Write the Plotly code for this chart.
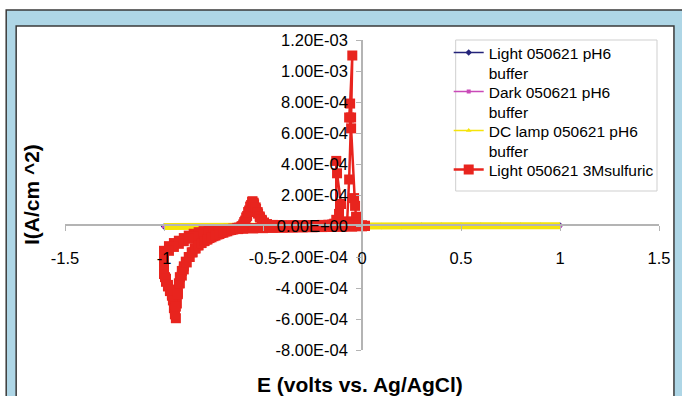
import plotly.graph_objects as go

# ---------------- data ----------------
x_tick_vals = [-1.5, -1.0, -0.5, 0.0, 0.5, 1.0, 1.5]
x_tick_text = ["-1.5", "-1", "-0.5", "0", "0.5", "1", "1.5"]
y_tick_vals = [-8e-4, -6e-4, -4e-4, -2e-4, 0.0, 2e-4, 4e-4, 6e-4, 8e-4, 1e-3, 1.2e-3]
y_tick_text = ["-8.00E-04", "-6.00E-04", "-4.00E-04", "-2.00E-04", "0.00E+00",
               "2.00E-04", "4.00E-04", "6.00E-04", "8.00E-04", "1.00E-03", "1.20E-03"]

buffer_E = [-1.0, -0.9, -0.8, -0.7, -0.6, -0.5, -0.4, -0.3, -0.2, -0.1, 0.0,
            0.1, 0.2, 0.3, 0.4, 0.5, 0.6, 0.7, 0.8, 0.9, 1.0]
light_buffer_I = [-3e-6, -2e-6, -1e-6, -1e-6, 0.0, 0.0, 0.0, 0.0, 0.0, 0.0, 0.0,
                  0.0, 0.0, 1e-6, 1e-6, 1e-6, 1e-6, 1e-6, 2e-6, 2e-6, 3e-6]
dark_buffer_I = [-2e-6, -1e-6, -1e-6, 0.0, 0.0, 0.0, 0.0, 0.0, 0.0, 0.0, 0.0,
                 0.0, 0.0, 0.0, 0.0, 1e-6, 1e-6, 1e-6, 1e-6, 1e-6, 2e-6]
dc_buffer_I = [-3e-6, -2e-6, -1e-6, -1e-6, 0.0, 0.0, 0.0, 0.0, 0.0, 0.0, 0.0,
               0.0, 0.0, 0.0, 1e-6, 1e-6, 1e-6, 1e-6, 2e-6, 2e-6, 2e-6]

# Light 050621 3M sulfuric, current in units of 1e-4 A/cm^2
cyc1_down_E = [0.015, 0.0, -0.05, -0.1, -0.15, -0.2, -0.25, -0.3, -0.35, -0.4, -0.45,
               -0.5, -0.55, -0.6, -0.625, -0.65, -0.675, -0.7, -0.725, -0.75, -0.775,
               -0.8, -0.825, -0.85, -0.875, -0.9, -0.925, -0.95, -0.975, -1.0, -1.0]
cyc1_down_I = [0.0, -0.02, -0.03, -0.04, -0.05, -0.06, -0.07, -0.08, -0.09, -0.1, -0.11,
               -0.12, -0.13, -0.14, -0.15, -0.17, -0.19, -0.2, -0.22, -0.25, -0.28,
               -0.33, -0.4, -0.5, -0.62, -0.78, -0.95, -1.1, -1.3, -1.6, -2.2]
cyc1_up_E = [-1.0, -0.995, -0.99, -0.98, -0.97, -0.96, -0.95, -0.945, -0.94, -0.935,
             -0.93, -0.925, -0.92, -0.91, -0.9, -0.89, -0.875, -0.86, -0.845, -0.83,
             -0.815, -0.8, -0.785, -0.77, -0.75, -0.73, -0.71, -0.69, -0.67, -0.65,
             -0.63, -0.61, -0.6, -0.59, -0.58, -0.57, -0.56, -0.553, -0.545, -0.535,
             -0.525, -0.515, -0.505, -0.495, -0.48, -0.46, -0.43, -0.4, -0.35, -0.3,
             -0.25, -0.2, -0.16, -0.13, -0.1, -0.08, -0.075, -0.065, -0.055, -0.049,
             -0.06, -0.065, -0.055, -0.04, -0.035, -0.03, -0.02, 0.0, 0.015]
cyc1_up_I = [-2.8, -3.3, -3.6, -3.9, -4.2, -4.5, -4.8, -5.4, -5.95, -5.0,
             -4.3, -3.7, -3.3, -2.9, -2.6, -2.3, -2.0, -1.7, -1.45, -1.25,
             -1.1, -0.98, -0.88, -0.78, -0.66, -0.55, -0.45, -0.36, -0.28, -0.2,
             -0.12, -0.04, 0.1, 0.35, 0.65, 1.0, 1.35, 1.6, 1.4, 1.1,
             0.8, 0.55, 0.35, 0.2, 0.1, 0.06, 0.05, 0.04, 0.04, 0.04,
             0.05, 0.05, 0.06, 0.08, 0.1, 0.15, 0.3, 3.0, 7.0, 11.0,
             7.9, 7.0, 6.3, 1.8, 1.3, 0.6, 0.2, 0.05, 0.0]
cyc2_down_E = [0.015, 0.0, -0.05, -0.1, -0.15, -0.2, -0.25, -0.3, -0.35, -0.4, -0.45,
               -0.5, -0.55, -0.6, -0.625, -0.65, -0.675, -0.7, -0.725, -0.75, -0.775,
               -0.8, -0.825, -0.85, -0.875, -0.9, -0.925, -0.95, -0.975, -1.0, -1.0]
cyc2_down_I = [0.02, 0.0, -0.03, -0.05, -0.06, -0.07, -0.08, -0.09, -0.1, -0.11, -0.12,
               -0.14, -0.16, -0.18, -0.2, -0.22, -0.25, -0.28, -0.31, -0.35, -0.4,
               -0.47, -0.56, -0.68, -0.82, -0.98, -1.15, -1.35, -1.6, -1.9, -2.5]
cyc2_up_E = [-1.0, -0.99, -0.98, -0.97, -0.96, -0.955, -0.95, -0.945, -0.94, -0.93,
             -0.92, -0.91, -0.9, -0.885, -0.87, -0.855, -0.84, -0.825, -0.81, -0.795,
             -0.78, -0.76, -0.74, -0.72, -0.7, -0.68, -0.66, -0.64, -0.62, -0.605,
             -0.595, -0.585, -0.575, -0.565, -0.555, -0.547, -0.537, -0.527, -0.517, -0.507,
             -0.495, -0.48, -0.45, -0.4, -0.35, -0.3, -0.25, -0.2, -0.17, -0.15,
             -0.14, -0.13, -0.13, -0.126, -0.106, -0.116, -0.1, -0.08, -0.05, -0.02,
             0.0, 0.015]
cyc2_up_I = [-3.1, -3.4, -3.8, -4.1, -4.4, -4.8, -5.3, -5.7, -5.2, -4.4,
             -3.7, -3.2, -2.8, -2.35, -2.0, -1.7, -1.45, -1.25, -1.1, -0.97,
             -0.86, -0.73, -0.62, -0.52, -0.43, -0.34, -0.26, -0.18, -0.1, 0.0,
             0.25, 0.55, 0.9, 1.25, 1.55, 1.5, 1.2, 0.9, 0.62, 0.4,
             0.22, 0.12, 0.07, 0.05, 0.05, 0.05, 0.06, 0.07, 0.08, 0.1,
             0.15, 0.4, 4.2, 3.4, 1.42, 0.78, 0.2, 0.08, 0.05, 0.03,
             0.0, 0.0]

sulfuric_E = cyc1_down_E + cyc1_up_E + cyc2_down_E + cyc2_up_E
sulfuric_I_e4 = cyc1_down_I + cyc1_up_I + cyc2_down_I + cyc2_up_I
sulfuric_I = [v * 1e-4 for v in sulfuric_I_e4]

# ---------------- layout geometry (pixels) ----------------
W, H = 682, 396
ML, MR, MT, MB = 65, 21, 40, 46
PW, PH = W - ML - MR, H - MT - MB


def px(xp):
    return (xp - ML) / PW


def py(yp):
    return (H - MB - yp) / PH


FONT = "Liberation Sans, Arial, sans-serif"
AXIS_GRAY = "#b4b4b4"

fig = go.Figure()
fig.add_trace(go.Scatter(x=buffer_E, y=light_buffer_I, name="Light 050621 pH6<br>buffer",
                         mode="lines+markers", line=dict(color="#24247a", width=1.5),
                         marker=dict(symbol="diamond", size=5, color="#24247a"),
                         legend="legend"))
fig.add_trace(go.Scatter(x=buffer_E, y=dark_buffer_I, name="Dark 050621 pH6<br>buffer",
                         mode="lines+markers", line=dict(color="#c94ab8", width=1.5),
                         marker=dict(symbol="square", size=4, color="#c94ab8"),
                         legend="legend2"))
fig.add_trace(go.Scatter(x=buffer_E, y=dc_buffer_I, name="DC lamp 050621 pH6<br>buffer",
                         mode="lines", line=dict(color="#f5e40a", width=7),
                         showlegend=False, legendgroup="dc", legend="legend3"))
fig.add_trace(go.Scatter(x=[None], y=[None], name="DC lamp 050621 pH6<br>buffer",
                         mode="lines+markers", line=dict(color="#f5e40a", width=1.5),
                         marker=dict(symbol="triangle-up", size=5, color="#f5e40a"),
                         legendgroup="dc", legend="legend3"))
fig.add_trace(go.Scatter(x=sulfuric_E, y=sulfuric_I, name="Light 050621 3Msulfuric",
                         mode="lines+markers", line=dict(color="#e8241e", width=2.5),
                         marker=dict(symbol="square", size=10, color="#e8241e"),
                         legend="legend4"))

shapes = [
    # outer light-blue frame
    dict(type="rect", xref="paper", yref="paper", x0=px(6), x1=px(700), y0=py(10), y1=py(420),
         fillcolor="#aed6e6", line=dict(color="#3a3a3a", width=1.5), layer="below"),
    # inner white panel
    dict(type="rect", xref="paper", yref="paper", x0=px(16), x1=px(676), y0=py(26), y1=py(420),
         fillcolor="white", line=dict(color="#3a3a3a", width=1.5), layer="below"),
    # legend box
    dict(type="rect", xref="paper", yref="paper", x0=px(457), x1=px(659), y0=py(40), y1=py(191),
         fillcolor="rgba(0,0,0,0)", line=dict(color="#cfcfcf", width=1), layer="below"),
]

annotations = [
    dict(text="<b>I(A/cm ^2)</b>", xref="paper", yref="paper", x=px(31), y=py(195),
         textangle=-90, showarrow=False, font=dict(family=FONT, size=21, color="black"),
         xanchor="center", yanchor="middle"),
    dict(text="<b>E (volts vs. Ag/AgCl)</b>", xref="paper", yref="paper", x=px(361), y=py(385),
         showarrow=False, font=dict(family=FONT, size=21, color="black"),
         xanchor="center", yanchor="middle"),
]


def legend_at(top_px):
    return dict(x=px(450), y=py(top_px), xanchor="left", yanchor="top",
                bgcolor="rgba(0,0,0,0)", borderwidth=0, valign="top",
                font=dict(family=FONT, size=15.5, color="black"),
                itemwidth=30, tracegroupgap=0)


fig.update_layout(
    width=W, height=H,
    margin=dict(l=ML, r=MR, t=MT, b=MB, pad=0),
    paper_bgcolor="white", plot_bgcolor="rgba(0,0,0,0)",
    font=dict(family=FONT, size=15, color="black"),
    showlegend=True,
    legend=legend_at(36),
    legend2=legend_at(75),
    legend3=legend_at(114),
    legend4=legend_at(153),
    shapes=shapes, annotations=annotations,
    xaxis=dict(range=[-1.5, 1.5], anchor="free", position=py(225), showgrid=False,
               zeroline=False, showline=True, linecolor=AXIS_GRAY, linewidth=1.5,
               ticks="outside", ticklen=5, tickcolor=AXIS_GRAY, tickwidth=1,
               tickvals=x_tick_vals, ticktext=x_tick_text, ticklabelstandoff=13,
               tickfont=dict(family=FONT, size=16.5, color="black")),
    yaxis=dict(range=[-8e-4, 1.2e-3], anchor="free", position=px(363), showgrid=False,
               zeroline=False, showline=True, linecolor=AXIS_GRAY, linewidth=1.5,
               ticks="outside", ticklen=5, tickcolor=AXIS_GRAY, tickwidth=1,
               tickvals=y_tick_vals, ticktext=y_tick_text, ticklabelstandoff=5,
               tickfont=dict(family=FONT, size=16.5, color="black")),
)

fig.write_html("out.html", config={"displayModeBar": False},
               post_script="document.body.style.margin='0';")
